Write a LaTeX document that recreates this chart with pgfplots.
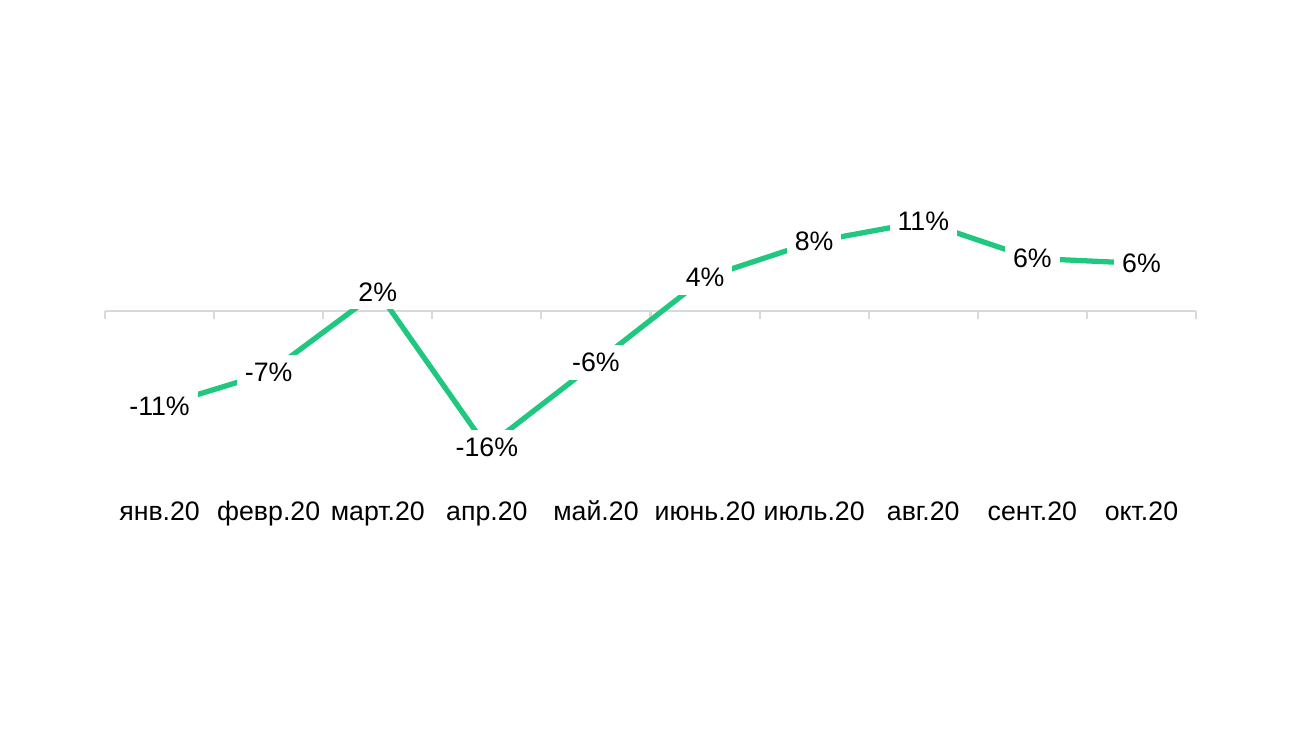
\documentclass[border=0pt]{standalone}
\usepackage{fontspec}
\setmainfont{Liberation Sans}
\usepackage{pgfplots}
\pgfplotsset{compat=1.18}
\definecolor{lgreen}{RGB}{32,199,127}
\definecolor{axgray}{RGB}{217,217,217}
\begin{document}
\begin{tikzpicture}
\begin{axis}[
  at={(1.05cm,2.53cm)}, anchor=south west,
  scale only axis, width=10.91cm, height=2.9225cm,
  xmin=0.5, xmax=10.5, ymin=-20, ymax=15,
  axis x line=middle, axis y line=none,
  axis line style={draw=axgray, line width=0.6pt, -},
  xtick={1,...,10},
  xticklabels={янв.20, февр.20, март.20, апр.20, май.20, июнь.20, июль.20, авг.20, сент.20, окт.20},
  minor xtick={0.5,1.5,...,10.5},
  major tick length=0pt,
  minor tick length=0.08cm,
  tick align=outside,
  minor x tick style={draw=axgray, line width=0.6pt},
  xticklabel style={anchor=base, yshift=-2.095cm, font=\fontsize{7.6}{9}\selectfont, text=black},
  ytick=\empty,
  clip=false,
  nodes near coords,
  point meta=explicit symbolic,
  nodes near coords style={anchor=center, fill=white, inner sep=0.08cm, font=\fontsize{7.6}{9}\selectfont, text=black},
]
\addplot[color=lgreen, line width=1.5pt, mark=none] coordinates {
(1,-11.4) [-11\%]
(2,-7.4) [-7\%]
(3,2.3) [2\%]
(4,-16.3) [-16\%]
(5,-6.2) [-6\%]
(6,4.0) [4\%]
(7,8.3) [8\%]
(8,10.7) [11\%]
(9,6.3) [6\%]
(10,5.7) [6\%]
};
\end{axis}
\pgfresetboundingbox
\path (0,0) rectangle (13cm,7.31cm);
\end{tikzpicture}
\end{document}
